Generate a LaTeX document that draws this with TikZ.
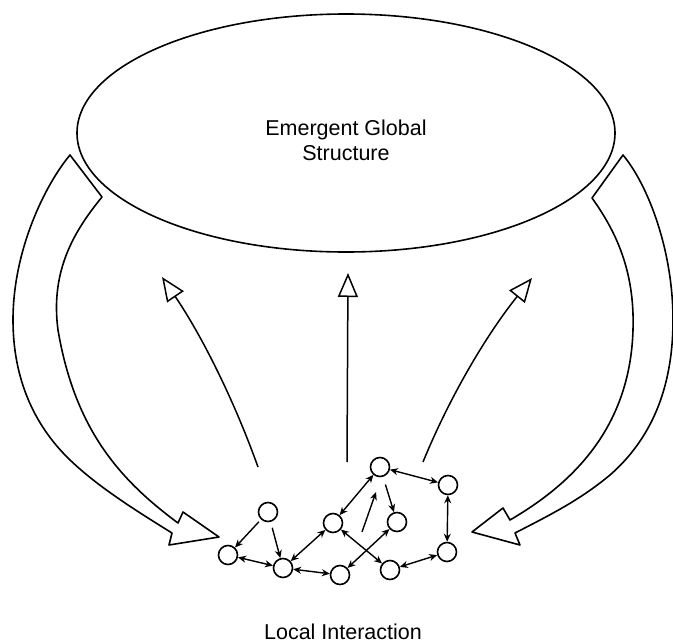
\documentclass[tikz,border=0pt]{standalone}
\usepackage{fontspec}
\setmainfont{Liberation Sans}
\usetikzlibrary{arrows.meta,shapes.geometric}
\begin{document}
\begin{tikzpicture}[x=1pt,y=-1pt,
  line join=round,
  bigline/.style={line width=1.6pt},
  agent/.style={circle,draw,line width=1.6pt,minimum size=19pt,inner sep=0pt,fill=white},
  link/.style={line width=1.4pt,{Stealth[length=8pt,width=7pt]}-{Stealth[length=8pt,width=7pt]}},
  onelink/.style={line width=1.4pt,-{Stealth[length=8pt,width=7pt]}},
  rise/.style={line width=1.5pt,-{Triangle[open,length=24pt,width=20pt,line width=1.5pt]}},
  lbl/.style={font=\fontsize{21.5}{25}\selectfont, align=center}
]
\useasboundingbox (0,0) rectangle (673,643);

% global structure
\node[draw,ellipse,bigline,minimum width=538pt,minimum height=238pt,inner sep=0pt] (glob) at (346,133) {};
\node[lbl] (gtxt) at (346,140) {Emergent Global\\Structure};

% big feedback arrows
\draw[bigline,fill=white] (70,155) .. controls (45,185) and (13,250) .. (13,320)
  .. controls (13,380) and (35,425) .. (67,457)
  .. controls (95,485) and (135,510) .. (172,533)
  -- (169,545) -- (219,537) -- (183,512) -- (178,523)
  .. controls (120,480) and (75,430) .. (58,330)
  .. controls (50,270) and (75,230) .. (102,197) -- cycle;
\draw[bigline,fill=white] (623,155) .. controls (648,185) and (673,250) .. (673,320)
  .. controls (673,390) and (650,440) .. (610,475)
  .. controls (580,500) and (550,515) .. (515,533)
  -- (520,545) -- (472,532) -- (503,508) -- (510,520)
  .. controls (570,485) and (630,430) .. (633,330)
  .. controls (635,270) and (615,230) .. (592,198) -- cycle;

% rising arrows
\coordinate (l0) at (258,467); \coordinate (l1) at (162,277);
\coordinate (m0) at (347,462); \coordinate (m1) at (348,273);
\coordinate (r0) at (423,462); \coordinate (r1) at (532,278);
\draw[rise] (l0) .. controls (234,400) and (202,336) .. (l1);
\draw[rise] (m0) -- (m1);
\draw[rise] (r0) .. controls (450,396) and (487,334) .. (r1);

% local agents
\node[agent] (A) at (268,512) {};
\node[agent] (B) at (228,555) {};
\node[agent] (C) at (283,568) {};
\node[agent] (D) at (333,523) {};
\node[agent] (E) at (380,467) {};
\node[agent] (F) at (448,485) {};
\node[agent] (G) at (397,522) {};
\node[agent] (H) at (447,552) {};
\node[agent] (I) at (340,575) {};
\node[agent] (J) at (390,570) {};

\draw[onelink,shorten <=3pt] (A) -- (B);
\draw[onelink,shorten <=6pt] (A) -- (C);
\draw[link] (B) -- (C);
\draw[link] (C) -- (D);
\draw[link] (C) -- (I);
\draw[link] (D) -- (E);
\draw[link] (E) -- (F);
\draw[link] (F) -- (H);
\draw[link] (H) -- (J);
\draw[link] (D) -- (J);
\draw[link] (I) -- (G);
\draw[onelink,shorten <=8pt] (E) -- (G);
\coordinate (f0) at (362,532); \coordinate (f1) at (376,492);
\draw[onelink] (f0) -- (f1);

\node[lbl] (ltxt) at (343,632) {Local Interaction};
\end{tikzpicture}
\end{document}
